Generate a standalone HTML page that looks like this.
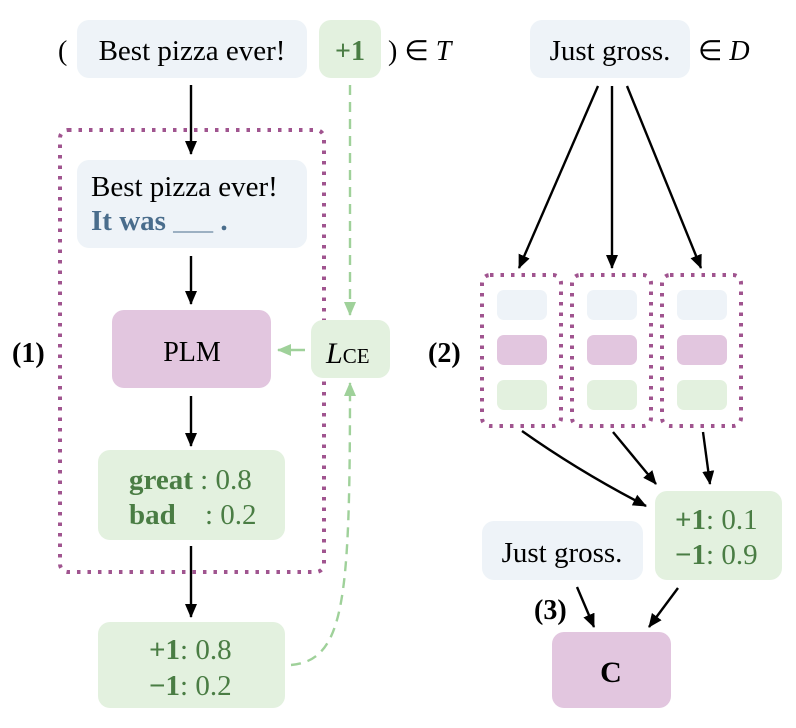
<!DOCTYPE html>
<html><head><meta charset="utf-8"><style>
html,body{margin:0;padding:0;background:#fff;}
svg{display:block;}
text,tspan{font-family:"Liberation Serif","Times New Roman",serif;}
</style></head><body>
<svg width="796" height="728" viewBox="0 0 796 728" xmlns="http://www.w3.org/2000/svg">
<defs>
<marker id="ah" markerWidth="14" markerHeight="12" refX="13" refY="6" orient="auto" markerUnits="userSpaceOnUse"><path d="M0,0 L14,6 L0,12 z" fill="#000"/></marker>
<marker id="gh" markerWidth="14" markerHeight="12" refX="13" refY="6" orient="auto" markerUnits="userSpaceOnUse"><path d="M0,0 L14,6 L0,12 z" fill="#9fd19a"/></marker>
</defs>
<!-- top left -->
<text x="58" y="60" font-size="28">(</text>
<rect x="77" y="20" width="230" height="58" rx="12" fill="#eef3f8"/>
<text x="192" y="60" font-size="29" text-anchor="middle">Best pizza ever!</text>
<rect x="319" y="20" width="62" height="58" rx="12" fill="#e3f1df"/>
<text x="350" y="60" font-size="28" font-weight="bold" fill="#4a7d44" text-anchor="middle">+1</text>
<text x="388" y="60" font-size="28">) ∈ <tspan font-style="italic">T</tspan></text>
<!-- dotted box 1 -->
<rect x="60" y="130" width="264" height="442" rx="8" fill="none" stroke="#a0548f" stroke-width="4" stroke-dasharray="3.5 7"/>
<rect x="77" y="160" width="230" height="88" rx="12" fill="#eef3f8"/>
<text x="91" y="196" font-size="29">Best pizza ever!</text>
<text x="91" y="230" font-size="29" font-weight="bold" fill="#4a6d8c">It was <tspan font-weight="normal" font-size="20">____</tspan> .</text>
<rect x="112" y="310" width="159" height="78" rx="12" fill="#e2c6df"/>
<text x="192" y="361" font-size="28" text-anchor="middle">PLM</text>
<rect x="311" y="320" width="79" height="58" rx="12" fill="#e3f1df"/>
<text x="326" y="363" font-size="30" font-style="italic">L<tspan font-style="normal" font-size="21">CE</tspan></text>
<text x="12" y="362" font-size="28" font-weight="bold">(1)</text>
<rect x="98" y="450" width="187" height="90" rx="12" fill="#e3f1df"/>
<text x="129" y="489" font-size="29" fill="#4a7d44"><tspan font-weight="bold">great</tspan> : 0.8</text>
<text x="129" y="524" font-size="29" fill="#4a7d44"><tspan font-weight="bold">bad</tspan><tspan x="205">: 0.2</tspan></text>
<rect x="98" y="622" width="187" height="86" rx="12" fill="#e3f1df"/>
<text x="149" y="659" font-size="29" fill="#4a7d44"><tspan font-weight="bold">+1</tspan>: 0.8</text>
<text x="149" y="695" font-size="29" fill="#4a7d44"><tspan font-weight="bold">−1</tspan>: 0.2</text>
<!-- arrows left -->
<g stroke="#000" stroke-width="2.4" fill="none">
<line x1="191" y1="85" x2="191" y2="154" marker-end="url(#ah)"/>
<line x1="191" y1="256" x2="191" y2="304" marker-end="url(#ah)"/>
<line x1="191" y1="396" x2="191" y2="446" marker-end="url(#ah)"/>
<line x1="191" y1="546" x2="191" y2="617" marker-end="url(#ah)"/>
</g>
<g stroke="#9fd19a" stroke-width="2.4" fill="none" stroke-dasharray="10 7">
<line x1="350" y1="85" x2="350" y2="315" marker-end="url(#gh)"/>
<path d="M291,665 C345,660 350,600 350,383" marker-end="url(#gh)"/>
</g>
<line x1="305" y1="350" x2="278" y2="350" stroke="#9fd19a" stroke-width="2.4" marker-end="url(#gh)"/>
<!-- right top -->
<rect x="530" y="20" width="160" height="58" rx="12" fill="#eef3f8"/>
<text x="610" y="60" font-size="29" text-anchor="middle">Just gross.</text>
<text x="698" y="60" font-size="28">∈ <tspan font-style="italic">D</tspan></text>
<text x="428" y="362" font-size="28" font-weight="bold">(2)</text>
<g fill="none" stroke="#a0548f" stroke-width="4" stroke-dasharray="3.5 7">
<rect x="482" y="275" width="79" height="151" rx="8"/>
<rect x="572" y="275" width="79" height="151" rx="8"/>
<rect x="662" y="275" width="79" height="151" rx="8"/>
</g>
<g>
<rect x="497" y="290" width="50" height="30" rx="7" fill="#eef3f8"/>
<rect x="497" y="335" width="50" height="30" rx="7" fill="#e2c6df"/>
<rect x="497" y="380" width="50" height="30" rx="7" fill="#e3f1df"/>
<rect x="587" y="290" width="50" height="30" rx="7" fill="#eef3f8"/>
<rect x="587" y="335" width="50" height="30" rx="7" fill="#e2c6df"/>
<rect x="587" y="380" width="50" height="30" rx="7" fill="#e3f1df"/>
<rect x="677" y="290" width="50" height="30" rx="7" fill="#eef3f8"/>
<rect x="677" y="335" width="50" height="30" rx="7" fill="#e2c6df"/>
<rect x="677" y="380" width="50" height="30" rx="7" fill="#e3f1df"/>
</g>
<g stroke="#000" stroke-width="2.4" fill="none">
<line x1="598" y1="86" x2="519" y2="268" marker-end="url(#ah)"/>
<line x1="612" y1="86" x2="612" y2="268" marker-end="url(#ah)"/>
<line x1="627" y1="86" x2="701" y2="268" marker-end="url(#ah)"/>
<path d="M522,431 Q580,472 646,506" marker-end="url(#ah)"/>
<line x1="613" y1="432" x2="656" y2="484" marker-end="url(#ah)"/>
<line x1="703" y1="432" x2="710" y2="484" marker-end="url(#ah)"/>
<line x1="577" y1="587" x2="594" y2="627" marker-end="url(#ah)"/>
<line x1="678" y1="588" x2="649" y2="627" marker-end="url(#ah)"/>
</g>
<rect x="655" y="491" width="127" height="89" rx="12" fill="#e3f1df"/>
<text x="675" y="529" font-size="29" fill="#4a7d44"><tspan font-weight="bold">+1</tspan>: 0.1</text>
<text x="675" y="564" font-size="29" fill="#4a7d44"><tspan font-weight="bold">−1</tspan>: 0.9</text>
<rect x="482" y="521" width="161" height="59" rx="12" fill="#eef3f8"/>
<text x="562" y="562" font-size="29" text-anchor="middle">Just gross.</text>
<text x="534" y="619" font-size="28" font-weight="bold">(3)</text>
<rect x="552" y="632" width="119" height="76" rx="12" fill="#e2c6df"/>
<text x="611" y="682" font-size="30" font-weight="bold" text-anchor="middle">C</text>
</svg>
</body></html>
